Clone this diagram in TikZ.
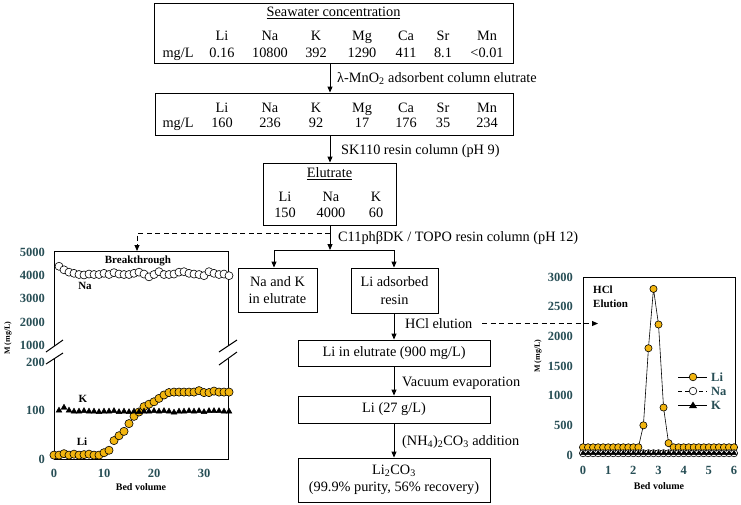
\documentclass[tikz,border=0pt]{standalone}
\usepackage{fontspec}
\setmainfont{Liberation Serif}
\usetikzlibrary{arrows.meta,plotmarks}
\definecolor{axc}{HTML}{274E55}
\definecolor{lic}{HTML}{F2B50F}
\begin{document}
\begin{tikzpicture}[x=1pt,y=-1pt,
  box/.style={draw,line width=0.9pt,inner sep=0pt},
  arr/.style={line width=0.9pt,-{Triangle[length=6pt,width=5pt]}},
  ft/.style={font=\fontsize{14.3}{17.5}\selectfont},
  txt/.style={ft,inner sep=0pt,anchor=base},
  lab/.style={ft,inner sep=0pt,anchor=base west},
  frame/.style={line width=1pt},
  tk/.style={font=\fontsize{12.5}{12.5}\selectfont\bfseries,text=axc,inner sep=0pt},
  cl/.style={font=\fontsize{11}{13}\selectfont\bfseries,inner sep=0pt},
  lg/.style={font=\fontsize{12.5}{13}\selectfont\bfseries,text=axc,inner sep=0pt,anchor=west},
  dsh/.style={dash pattern=on 5pt off 3.5pt}]

\fill[white] (0,0) rectangle (741,504);
\useasboundingbox (0,0) rectangle (741,504);

% ---------- top box ----------
\node[box,minimum width=359pt,minimum height=60pt] (sea) at (333.5,33) {};
\node[txt] (seat) at (333.5,16.5) {\underline{Seawater concentration}};
\foreach \xx/\hh in {222/Li,270/Na,316/K,362/Mg,406/Ca,443/Sr,487/Mn}{
  \node[txt] (sh\hh) at (\xx,40) {\hh};
  \node[txt] (th\hh) at (\xx,112) {\hh};
}
\node[txt] (su) at (178,57) {mg/L};
\foreach \xx/\vv/\nn in {222/0.16/a,270/10800/b,316/392/c,362/1290/d,406/411/e,443/8.1/f,487/{<0.01}/g}
  \node[txt] (sv\nn) at (\xx,57) {\vv};

% ---------- second box ----------
\node[box,minimum width=358pt,minimum height=42pt] (sw2) at (334,114) {};
\node[txt] (tu) at (178,127.5) {mg/L};
\foreach \xx/\vv/\nn in {222/160/a,270/236/b,316/92/c,362/17/d,406/176/e,443/35/f,487/234/g}
  \node[txt] (tv\nn) at (\xx,127.5) {\vv};

% ---------- elutrate box ----------
\node[box,minimum width=133pt,minimum height=62pt] (elu) at (329.5,194) {};
\node[txt] (elut) at (329.5,177.5) {\underline{Elutrate}};
\foreach \xx/\hh/\vv in {285/Li/150,331/Na/4000,376/K/60}{
  \node[txt] (eh\hh) at (\xx,201.5) {\hh};
  \node[txt] (ev\hh) at (\xx,217.5) {\vv};
}

% ---------- spine ----------
\coordinate (sp) at (330,0);
\draw[arr] (sea.south -| sp) -- (sw2.north -| sp);
\node[lab] (l1) at (337,82) {λ-MnO\textsubscript{2} adsorbent column elutrate};
\draw[arr] (sw2.south -| sp) -- (elu.north -| sp);
\node[lab] (l2) at (341,154.5) {SK110 resin column (pH 9)};
\coordinate (split) at (330,250);
\draw[arr] (elu.south -| sp) -- (split);
\node[lab] (l3) at (338,241.5) {C11phβDK / TOPO resin column (pH 12)};

\node[box,ft,minimum width=79pt,minimum height=44pt,align=center] (nak) at (277.5,290) {Na and K\\in elutrate};
\node[box,ft,minimum width=87pt,minimum height=45pt,align=center] (lar) at (394.5,290.5) {Li adsorbed\\resin};
\coordinate (bl) at (274,250);
\coordinate (br) at (394,250);
\draw[line width=0.9pt] (bl) -- (br);
\draw[arr] (bl) -- (bl |- nak.north);
\draw[arr] (br) -- (br |- lar.north);

\node[box,ft,minimum width=192pt,minimum height=26pt] (lie) at (394,353) {Li in elutrate (900 mg/L)};
\node[box,ft,minimum width=192pt,minimum height=27pt] (l27) at (394,409.5) {Li (27 g/L)};
\node[box,ft,minimum width=192pt,minimum height=44pt,align=center] (lcc) at (394,480) {Li\textsubscript{2}CO\textsubscript{3}\\(99.9\% purity, 56\% recovery)};
\draw[arr] (br |- lar.south) -- (br |- lie.north);
\node[lab] (l4) at (405,328.5) {HCl elution};
\draw[arr] (br |- lie.south) -- (br |- l27.north);
\node[lab] (l5) at (402,386) {Vacuum evaporation};
\draw[arr] (br |- l27.south) -- (br |- lcc.north);
\node[lab] (l6) at (402,445.5) {(NH\textsubscript{4})\textsubscript{2}CO\textsubscript{3} addition};

% dashed connectors
\coordinate (dj) at (330,233);
\coordinate (bt) at (137,233);
\coordinate (lctop) at (137,251);
\draw[arr,dsh] (dj) -- (bt) -- (lctop);
\coordinate (hs) at (482,323.5);
\coordinate (he) at (598,323.5);
\draw[arr,dsh] (hs) -- (he);

% ---------- left chart ----------
\draw[frame] (54,346) -- (54,251) -- (228,251) -- (228,346);
\draw[frame] (54,358.8) -- (54,459) -- (228,459) -- (228,358.5);
\draw[frame] (46,352) -- (63,340);
\draw[frame] (46,364) -- (63,353);
\draw[frame] (219,352) -- (237,340);
\draw[frame] (219,365) -- (237,352);
\foreach \v/\yy in {5000/252,4000/275,3000/298,2000/322,1000/345,200/362,100/410.5,0/459}
  \node[tk,anchor=east] at (45,\yy) {\v};
\foreach \v/\xx in {0/54,10/104,20/154,30/204}
  \node[tk] at (\xx,473) {\v};
\node[cl,font=\fontsize{10}{12}\selectfont\bfseries] (lbv) at (141,487) {Bed volume};
\node[cl,font=\fontsize{8}{10}\selectfont\bfseries,rotate=90] (lmy) at (8,338) {M (mg/L)};

\begin{scope}[shift={(54pt,-459pt)},x=5pt,y=0.485pt]
\draw[line width=0.6pt] plot[only marks,mark=*,mark size=4.1pt,mark options={fill=lic,draw=black}] coordinates
{(0,8) (1,8) (2,11) (3,8) (4,10) (5,8) (6,9) (7,10) (8,8) (9,8) (10,13) (11,18) (12,38) (13,48) (14,57) (15,73) (16,88) (17,97) (18,108) (19,113) (20,118) (21,125) (22,132) (23,137) (24,138) (25,138) (26,138) (27,138) (28,138) (29,141) (30,137) (31,137) (32,140) (33,138) (34,138) (35,138)};
\fill plot[only marks,mark=triangle*,mark size=3.4pt] coordinates
{(1,100) (2,106) (3,100) (4,98) (5,98) (6,99) (7,98) (8,98) (9,97) (10,98) (11,98) (12,99) (13,97) (14,98) (15,97) (16,98) (17,97) (18,98) (19,98) (20,99) (21,98) (22,99) (23,98) (24,96) (25,98) (26,98) (27,99) (28,98) (29,99) (30,97) (31,99) (32,99) (33,99) (34,98) (35,98)};
\end{scope}
\begin{scope}[shift={(54pt,-368.5pt)},x=5pt,y=0.0235pt]
\draw[line width=0.6pt] plot[only marks,mark=*,mark size=4pt,mark options={fill=white,draw=black}] coordinates
{(1,4350) (2,4200) (3,4100) (4,4050) (5,4000) (6,3980) (7,4020) (8,4000) (9,4000) (10,4050) (11,4000) (12,4080) (13,4020) (14,4000) (15,4000) (16,4050) (17,4100) (18,4020) (19,3900) (20,4000) (21,4120) (22,4000) (23,4000) (24,4020) (25,4100) (26,4120) (27,4050) (28,4020) (29,4000) (30,3950) (31,4120) (32,4050) (33,4000) (34,4020) (35,3950)};
\end{scope}
\node[cl] (bk) at (138,261) {Breakthrough};
\node[cl] (lna) at (85,286) {Na};
\node[cl] (lk) at (83,399) {K};
\node[cl] (lli) at (82,442) {Li};

% ---------- right chart ----------
\draw[frame] (583,277) rectangle (735,455);
\foreach \v/\yy in {3000/277,2500/306.7,2000/336.3,1500/366,1000/395.7,500/425.3,0/455}
  \node[tk,anchor=east] at (573,\yy) {\v};
\foreach \v in {0,...,6}
  \node[tk] at (583+25.17*\v,470) {\v};
\node[cl,font=\fontsize{10}{12}\selectfont\bfseries] (rbv) at (659,486) {Bed volume};
\node[cl,font=\fontsize{8}{10}\selectfont\bfseries,rotate=90] (rmy) at (538,356) {M (mg/L)};
\node[cl,anchor=west] (hcl1) at (593,290) {HCl};
\node[cl,anchor=west] (hcl2) at (593,304) {Elution};

\begin{scope}[shift={(583pt,-455pt)},x=25.17pt,y=0.05933pt]
\draw[line width=0.6pt] plot[mark=*,mark size=3.6pt,mark options={fill=lic,draw=black}] coordinates
{(0,130) (0.2,130) (0.4,130) (0.6,130) (0.8,130) (1,130) (1.2,130) (1.4,130) (1.6,130) (1.8,130) (2,130) (2.2,130) (2.4,500) (2.6,1800) (2.8,2800) (3,2200) (3.2,800) (3.4,200) (3.6,130) (3.8,130) (4,130) (4.2,130) (4.4,130) (4.6,130) (4.8,130) (5,130) (5.2,130) (5.4,130) (5.6,130) (5.8,130) (6,130)};
\draw[line width=0.6pt,dashed] plot[mark=*,mark size=3.6pt,mark options={fill=white,draw=black,solid}] coordinates
{(0,30) (0.2,30) (0.4,30) (0.6,30) (0.8,30) (1,30) (1.2,30) (1.4,30) (1.6,30) (1.8,30) (2,30) (2.2,30) (2.4,30) (2.6,30) (2.8,30) (3,30) (3.2,30) (3.4,30) (3.6,30) (3.8,30) (4,30) (4.2,30) (4.4,30) (4.6,30) (4.8,30) (5,30) (5.2,30) (5.4,30) (5.6,30) (5.8,30) (6,30)};
\draw[line width=0.6pt] plot[mark=triangle*,mark size=2.8pt,mark options={fill=black}] coordinates
{(0,30) (0.2,30) (0.4,30) (0.6,30) (0.8,30) (1,30) (1.2,30) (1.4,30) (1.6,30) (1.8,30) (2,30) (2.2,30) (2.4,30) (2.6,30) (2.8,30) (3,30) (3.2,30) (3.4,30) (3.6,30) (3.8,30) (4,30) (4.2,30) (4.4,30) (4.6,30) (4.8,30) (5,30) (5.2,30) (5.4,30) (5.6,30) (5.8,30) (6,30)};
\end{scope}

% legend
\draw[line width=0.8pt] (678,377) -- (707,377);
\filldraw[fill=lic,draw=black,line width=0.6pt] (693,377) circle[radius=3.8pt];
\node[lg] (lg1) at (711,377) {Li};
\draw[line width=0.8pt,dash pattern=on 4pt off 3pt] (678,391) -- (707,391);
\filldraw[fill=white,draw=black,line width=0.6pt] (693,391) circle[radius=3.8pt];
\node[lg] (lg2) at (711,391) {Na};
\draw[line width=0.8pt] (678,405) -- (707,405);
\fill (693,401.5) -- (697,408) -- (689,408) -- cycle;
\node[lg] (lg3) at (711,405) {K};

\end{tikzpicture}
\end{document}
